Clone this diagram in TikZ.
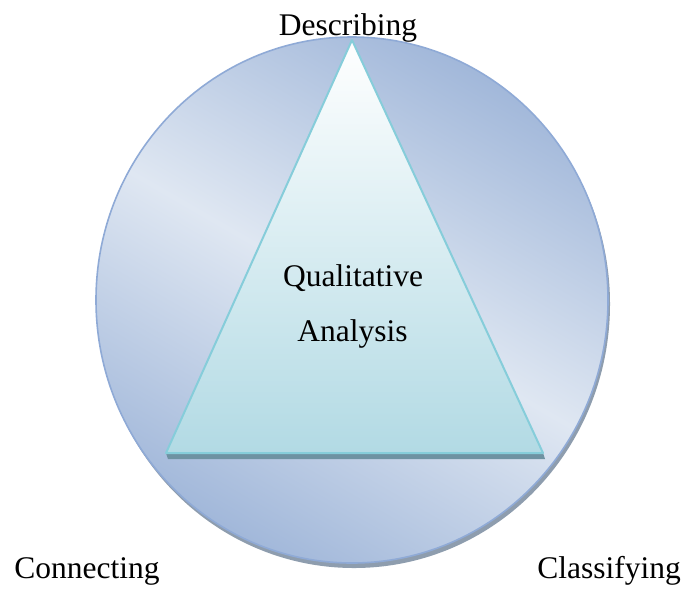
\documentclass[tikz,border=0pt]{standalone}
\usepackage{fontspec}
\setmainfont{Liberation Serif}
\definecolor{cdark}{HTML}{A2B8DA}
\definecolor{clight}{HTML}{DFE7F2}
\definecolor{cedge}{HTML}{8FAAD6}
\definecolor{cshadow}{HTML}{8E9DAE}
\definecolor{ttop}{HTML}{FFFFFF}
\definecolor{tbot}{HTML}{B2DAE4}
\definecolor{tedge}{HTML}{86CDDA}
\definecolor{tband}{HTML}{6E92A2}
\tikzset{
  lbl/.style={font=\fontsize{31.5}{36}\selectfont, text=black, anchor=base, inner sep=0pt},
}
\begin{document}
\begin{tikzpicture}[x=1pt,y=-1pt]
\useasboundingbox (0,0) rectangle (684,590);
% circle shadow
\fill[cshadow] (354,304) ellipse [x radius=256pt, y radius=264pt];
% circle
\shade[top color=cdark, bottom color=cdark, middle color=clight, shading angle=-30]
  (352,300) ellipse [x radius=256pt, y radius=263pt];
\draw[cedge, line width=1.6pt] (352,300) ellipse [x radius=256pt, y radius=263pt];
% triangle base band
\fill[tband] (166,453) -- (543,453) -- (545,459) -- (168,459) -- cycle;
% triangle
\coordinate (apex) at (352,40);
\coordinate (bl) at (166,453);
\coordinate (br) at (543,453);
\shade[top color=ttop, bottom color=tbot] (apex) -- (br) -- (bl) -- cycle;
\draw[tedge, line width=2pt, line join=round] (apex) -- (br) -- (bl) -- cycle;
% labels
\node[lbl] (desc) at (348,35) {Describing};
\node[lbl] (conn) at (87,578) {Connecting};
\node[lbl] (clas) at (609,578) {Classifying};
\node[lbl] (qual) at (353,286) {Qualitative};
\node[lbl] (anal) at (352.5,341) {Analysis};
\end{tikzpicture}
\end{document}
